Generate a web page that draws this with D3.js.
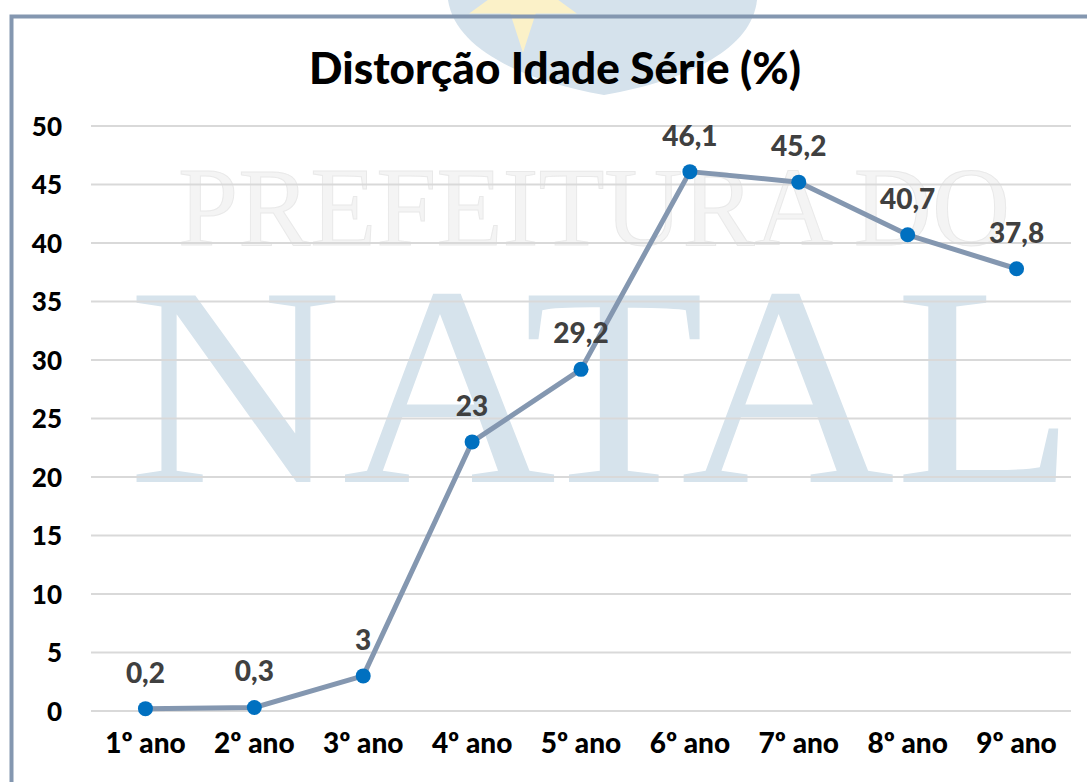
<!DOCTYPE html>
<html><head><meta charset="utf-8">
<script src="https://cdn.jsdelivr.net/npm/d3@7"></script>
<style>html,body{margin:0;padding:0;background:#fff;}svg{display:block;}</style>
</head><body>
<svg id="chart" width="1087" height="782"></svg>
<script>
const categories = ["1º ano","2º ano","3º ano","4º ano","5º ano","6º ano","7º ano","8º ano","9º ano"];
const values = [0.2, 0.3, 3, 23, 29.2, 46.1, 45.2, 40.7, 37.8];
const valueLabels = ["0,2","0,3","3","23","29,2","46,1","45,2","40,7","37,8"];
const yTicks = [0,5,10,15,20,25,30,35,40,45,50];
const title = "Distorção Idade Série (%)";

const W = 1087, H = 782;
const svg = d3.select("#chart");
const font = "Lato, 'Open Sans', sans-serif";

// watermark
const wm = svg.append("g");
wm.append("path")
  .attr("d","M448,0 L757,0 C752,48 690,80 604,95 C520,80 455,48 448,0 Z")
  .attr("fill","#d5e2ec");
const star = d3.symbol().type(d3.symbolStar).size(3600)();
wm.append("path").attr("d", star).attr("transform","translate(523,-4) rotate(180)").attr("fill","#fbf1c8");
wm.append("text").attr("x",178).attr("y",245).attr("textLength",832).attr("lengthAdjust","spacingAndGlyphs")
  .attr("font-family","'Liberation Serif', serif").attr("font-size",112)
  .attr("fill","#f4f4f4").attr("stroke","#e9e9e9").attr("stroke-width",1)
  .text("PREFEITURA DO");
wm.append("text").attr("x",128).attr("y",482).attr("textLength",948).attr("lengthAdjust","spacingAndGlyphs")
  .attr("font-family","'Liberation Serif', serif").attr("font-size",285)
  .attr("fill","#d6e3ec")
  .text("NATAL");

// border
svg.append("path").attr("d","M11.5,782 L11.5,16.5 L1087,16.5")
  .attr("fill","none").attr("stroke","#8497b0").attr("stroke-width",4);

const x = d3.scaleBand().domain(categories).range([91,1071]);
const y = d3.scaleLinear().domain([0,50]).range([711,126]);

// gridlines
svg.append("g").selectAll("line").data(yTicks).join("line")
  .attr("x1",91).attr("x2",1071)
  .attr("y1",d=>y(d)).attr("y2",d=>y(d))
  .attr("stroke","#d9d9d9").attr("stroke-width",2);

// y axis
const yAxis = d3.axisLeft(y).tickValues(yTicks).tickSize(0).tickPadding(0);
const ya = svg.append("g").attr("transform","translate(62,0)").call(yAxis);
ya.select(".domain").remove();
ya.selectAll("text").attr("font-family",font).attr("font-weight","900")
  .attr("font-size",26).attr("fill","#000").attr("dy","0.35em");

// x axis
const xAxis = d3.axisBottom(x).tickSize(0).tickPadding(0);
const xa = svg.append("g").attr("transform","translate(0,733)").call(xAxis);
xa.select(".domain").remove();
xa.selectAll("text").attr("font-family",font).attr("font-weight","900")
  .attr("font-size",28).attr("fill","#000").attr("dy","0.71em");

// title
svg.append("text").attr("x",555).attr("y",84).attr("text-anchor","middle")
  .attr("font-family",font).attr("font-weight","900").attr("font-size",44).attr("fill","#000")
  .text(title);

const cx = d => x(d) + x.bandwidth()/2;
const pts = categories.map((c,i)=>({c, v: values[i], l: valueLabels[i]}));

svg.append("path").datum(pts)
  .attr("d", d3.line().x(d=>cx(d.c)).y(d=>y(d.v)))
  .attr("fill","none").attr("stroke","#8497b0").attr("stroke-width",5).attr("stroke-linejoin","round");

svg.append("g").selectAll("circle").data(pts).join("circle")
  .attr("cx",d=>cx(d.c)).attr("cy",d=>y(d.v)).attr("r",7.5).attr("fill","#0070c0");

svg.append("g").selectAll("text").data(pts).join("text")
  .attr("x",d=>cx(d.c)).attr("y",d=>y(d.v)-26).attr("text-anchor","middle")
  .attr("font-family",font).attr("font-weight","900").attr("font-size",28).attr("fill","#404040")
  .text(d=>d.l);
</script>
</body></html>
